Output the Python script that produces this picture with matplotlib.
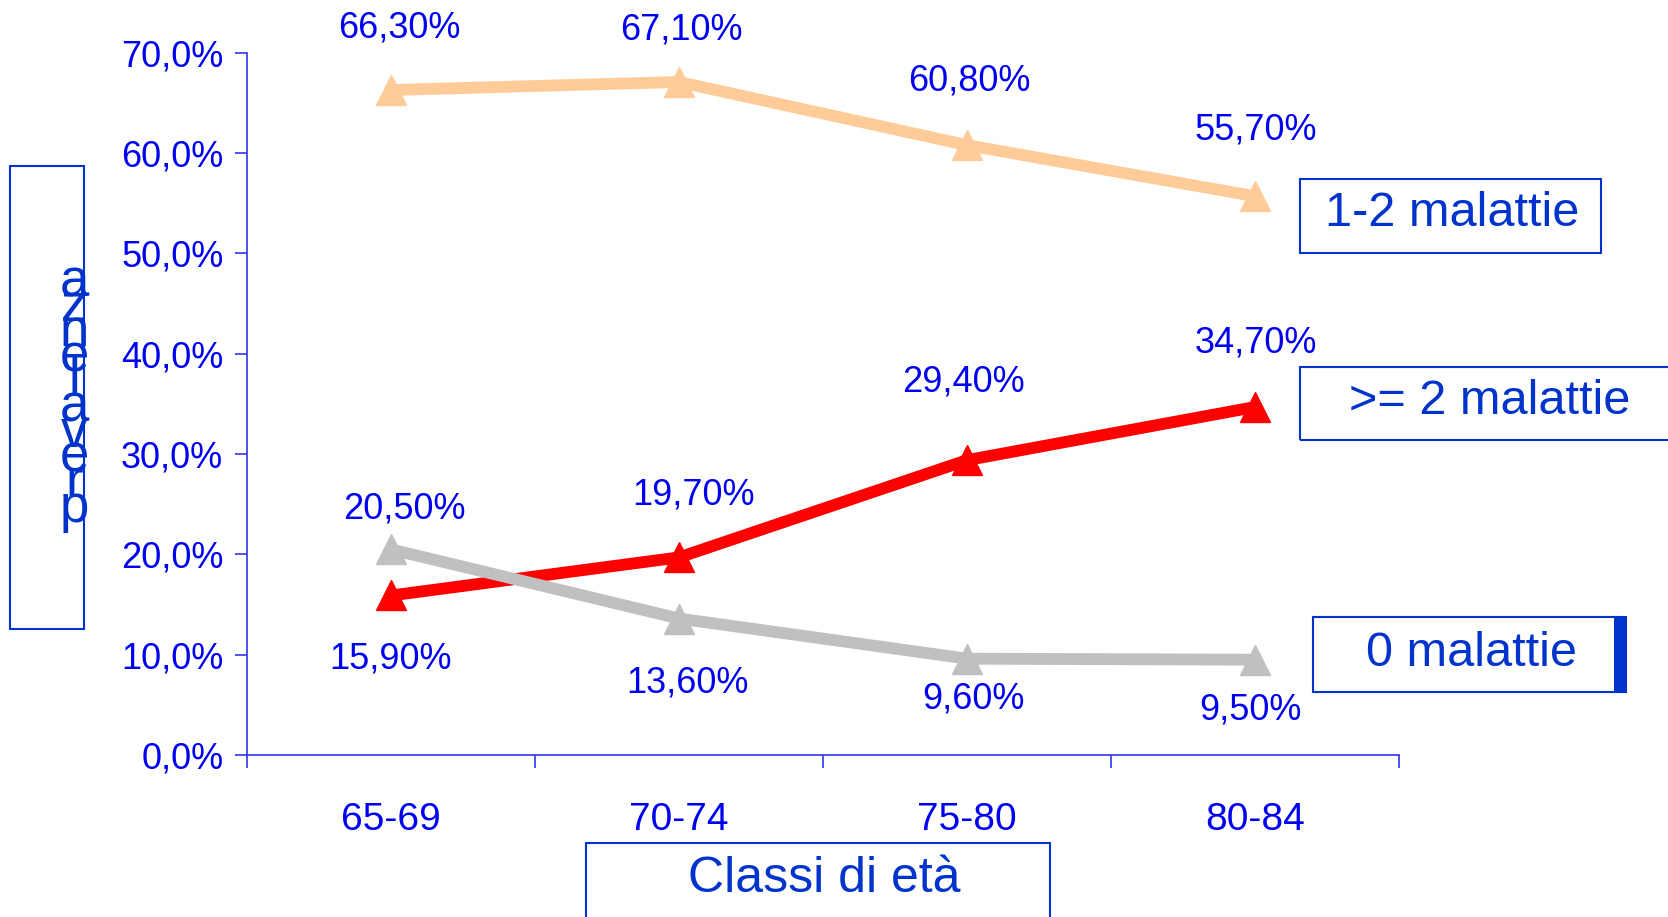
import matplotlib.pyplot as plt
from matplotlib.patches import Rectangle

# age classes and share of people by number of illnesses (%)
classi = ['65-69', '70-74', '75-80', '80-84']
una_due = [66.3, 67.1, 60.8, 55.7]
due_piu = [15.9, 19.7, 29.4, 34.7]
nessuna = [20.5, 13.6, 9.6, 9.5]

blu = '#0000F0'
blu_box = '#0033CC'
plt.rcParams['font.family'] = ['Liberation Sans', 'DejaVu Sans']

W, H = 1668, 917
fig = plt.figure(figsize=(W / 100, H / 100), dpi=100)
ax = fig.add_axes([0.148, 0.1767, 0.691, 0.7656])

x = list(range(len(classi)))
stile = dict(lw=8.5, marker='^', ms=22, solid_capstyle='butt')
ax.plot(x, una_due, color='#FFCC99', zorder=3, **stile)
ax.plot(x, due_piu, color='#FF0000', zorder=3, **stile)
ax.plot(x, nessuna, color='#C0C0C0', zorder=4, **stile)

ax.set_xlim(-0.5, 3.5)
ax.set_ylim(0, 70)
for s in ['top', 'right']:
    ax.spines[s].set_visible(False)
for s in ['left', 'bottom']:
    ax.spines[s].set_color('#3333EE')
    ax.spines[s].set_linewidth(1.2)

ax.set_yticks(range(0, 71, 10))
ax.set_yticklabels([f'{v},0%' for v in range(0, 71, 10)])
ax.tick_params(axis='y', direction='out', length=9, width=1.2, color='#3333EE',
               labelsize=26, labelcolor=blu, pad=8)

# ticks on the category boundaries, labels in the middle
ax.set_xticks([-0.5, 0.5, 1.5, 2.5, 3.5])
ax.set_xticklabels([])
ax.tick_params(axis='x', direction='out', length=9, width=1.2, color='#3333EE')
ax.set_xticks(x, minor=True)
ax.set_xticklabels(classi, minor=True)
ax.tick_params(axis='x', which='minor', length=0, labelsize=28, labelcolor=blu, pad=34)


def etichette(valori, offsets):
    for i, (v, (dx, dy)) in enumerate(zip(valori, offsets)):
        ax.annotate(f'{v:.2f}'.replace('.', ',') + '%',
                    xy=(i, v), xytext=(dx, dy), textcoords='offset pixels',
                    ha='center', va='center', fontsize=26, color=blu)


etichette(una_due, [(8, 62), (2, 52), (2, 64), (0, 66)])
etichette(due_piu, [(0, -64), (14, 62), (-4, 78), (0, 64)])
etichette(nessuna, [(13, 40), (8, -64), (6, -40), (-5, -50)])

# boxed series names on the right: (text, x0, y0, x1, y1, text x, text y) in pixels from top-left
boxes = [
    ('1-2 malattie', 1300, 179, 1601, 253, 1452, 214),
    ('>= 2 malattie', 1300, 367, 1700, 440, 1490, 402),
    ('0 malattie', 1313, 617, 1626, 692, 1471, 653),
]
for testo, x0, y0, x1, y1, tx, ty in boxes:
    fig.patches.append(Rectangle((x0, H - y1), x1 - x0, y1 - y0, transform=None,
                                 fill=False, ec=blu_box, lw=1.5))
    fig.text(tx / W, 1 - ty / H, testo, ha='center', va='center',
             fontsize=35, color=blu_box)
fig.patches.append(Rectangle((1614, H - 692), 12, 75, transform=None,
                             fc=blu_box, ec='none'))

# y title box with stacked letters
fig.patches.append(Rectangle((10, H - 629), 74, 463, transform=None,
                             fill=False, ec=blu_box, lw=1.5))
fig.text(74 / W, 1 - 395 / H, '\n'.join(reversed('prevalenza')), ha='center', va='center',
         fontsize=38, color=blu_box, linespacing=0.36)

# x title box
fig.patches.append(Rectangle((586, H - 940), 464, 97, transform=None,
                             fill=False, ec=blu_box, lw=1.5))
fig.text(824 / W, 1 - 879 / H, 'Classi di età', ha='center', va='center',
         fontsize=36, color=blu_box)

fig.savefig('out.png', dpi=100)
